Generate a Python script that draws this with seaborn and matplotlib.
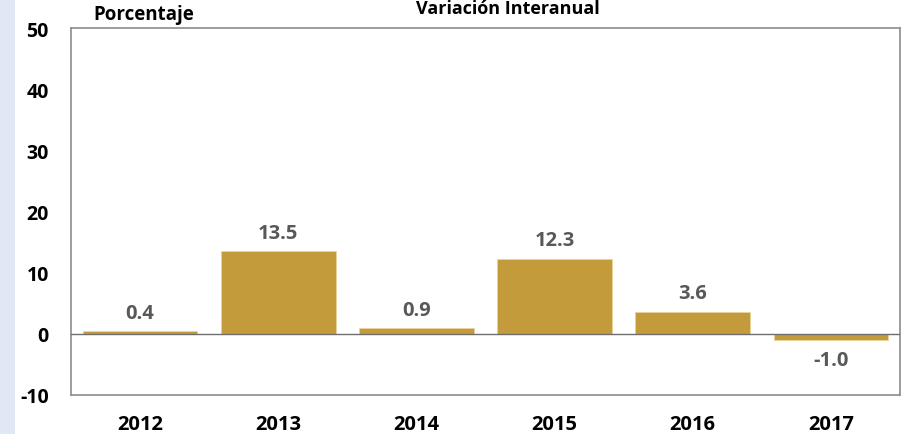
import matplotlib
matplotlib.use("Agg")
import matplotlib.pyplot as plt
import seaborn as sns
import pandas as pd
from matplotlib.patches import Rectangle

years = ["2012", "2013", "2014", "2015", "2016", "2017"]
values = [0.4, 13.5, 0.9, 12.3, 3.6, -1.0]
yticks = [-10, 0, 10, 20, 30, 40, 50]

df = pd.DataFrame({"year": years, "value": values})

sns.set_style("white")
plt.rcParams["font.family"] = ["Open Sans", "DejaVu Sans"]
plt.rcParams["axes.unicode_minus"] = False

fig = plt.figure(figsize=(9.02, 4.35), dpi=100)
# light blue strip on the left
fig.patches.append(Rectangle((0, 0), 15 / 902, 1, transform=fig.transFigure,
                             facecolor="#dfe8f4", edgecolor="none", zorder=0))

ax = fig.add_axes([71 / 902, 1 - 396 / 435, (900 - 71) / 902, (396 - 29) / 435])
sns.barplot(data=df, x="year", y="value", color="#c49b3a", saturation=1,
            width=0.83, ax=ax, edgecolor="#e8d49a", linewidth=0.6)

ax.set_ylim(-10, 50)
ax.set_yticks(yticks)
ax.set_xlim(-0.5, len(years) - 0.5)
ax.axhline(0, color="#6e6e6e", lw=1, zorder=3)
for s in ax.spines.values():
    s.set_color("#8c8c8c")
    s.set_linewidth(1.2)
ax.set_xlabel("")
ax.set_ylabel("")
ax.tick_params(axis="y", labelsize=14, pad=16, length=0)
ax.tick_params(axis="x", labelsize=14.5, pad=14, length=0)
for lab in ax.get_xticklabels() + ax.get_yticklabels():
    lab.set_fontweight("bold")
    lab.set_color("black")

for i, v in enumerate(values):
    off = 1.4 if v >= 0 else -1.6
    ax.text(i, v + off, f"{v:.1f}", ha="center", va="bottom" if v >= 0 else "top",
            fontsize=14.5, fontweight="bold", color="#595959")

fig.text(93 / 902, 1 - 15 / 435, "Porcentaje", ha="left", va="center",
         fontsize=13.5, fontweight="bold", color="black")
fig.text(508 / 902, 1 - 9 / 435, "Variación Interanual", ha="center", va="center",
         fontsize=13, fontweight="bold", color="black")

fig.savefig("out.png", dpi=100)
